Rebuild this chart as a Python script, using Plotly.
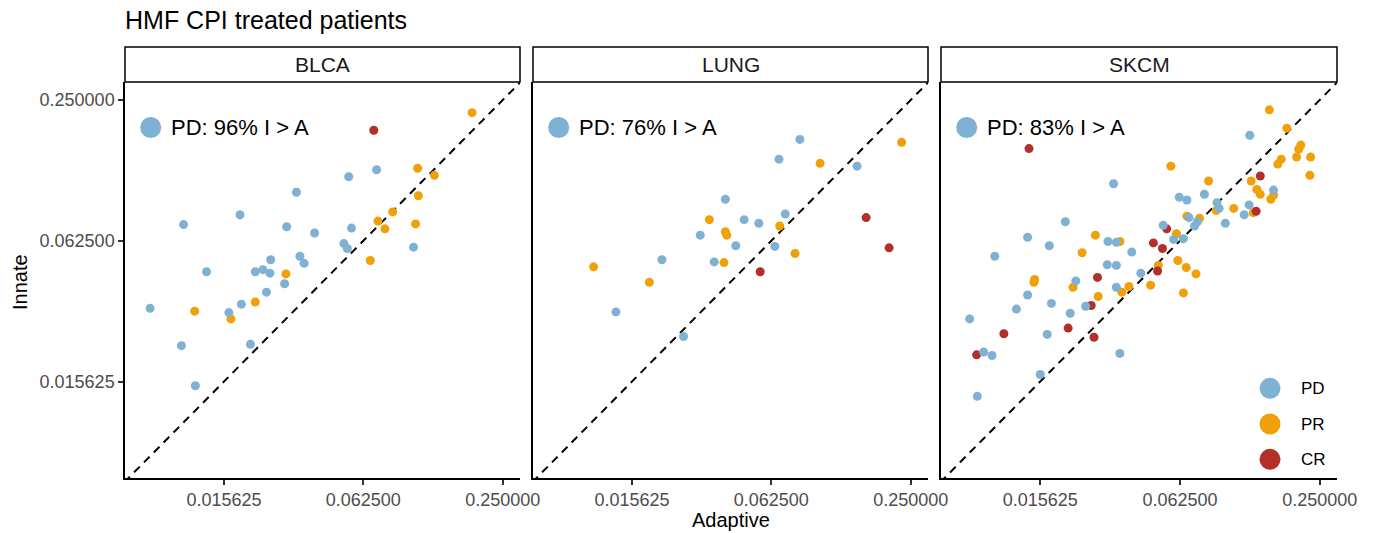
import numpy as np
import plotly.graph_objects as go

# ---------------- data (log2 of Adaptive / Innate) -------------
panels = ["BLCA", "LUNG", "SKCM"]
panel_labels = ["PD: 96% I > A", "PD: 76% I > A", "PD: 83% I > A"]
responses = ["PD", "PR", "CR"]
tick_values = [0.015625, 0.0625, 0.25]
tick_labels = ["0.015625", "0.062500", "0.250000"]

blca_pd_adaptive = [-3.81, -4.21, -4.96, -5.77, -6.58, -5.10, -4.70, -4.17, -4.28, -4.23, -3.28, -4.91, -4.85,
                    -5.33, -6.25, -5.55, -5.44, -5.34, -5.13, -5.39, -5.75, -7.06, -5.93, -6.61, -5.62, -6.41]
blca_pd_innate = [-2.99, -3.09, -3.31, -3.63, -3.77, -3.80, -3.89, -3.82, -4.04, -4.11, -4.09, -4.22, -4.32,
                  -4.27, -4.44, -4.44, -4.41, -4.46, -4.61, -4.73, -4.90, -4.96, -5.02, -5.49, -5.47, -6.06]
blca_pr_adaptive = [-2.44, -3.22, -2.98, -3.21, -3.58, -3.79, -3.69, -3.25, -3.90, -5.11, -5.55, -6.42, -5.90]
blca_pr_innate = [-2.18, -2.97, -3.07, -3.36, -3.59, -3.72, -3.83, -3.76, -4.28, -4.47, -4.87, -5.00, -5.11]
blca_cr_adaptive = [-3.85]
blca_cr_innate = [-2.43]

lung_pd_adaptive = [-3.59, -3.89, -2.77, -4.66, -4.39, -4.18, -3.80, -5.02, -4.51, -3.95, -5.57, -4.82, -6.23, -5.26]
lung_pd_innate = [-2.56, -2.84, -2.94, -3.41, -3.70, -3.75, -3.62, -3.92, -4.07, -4.08, -4.27, -4.30, -5.01, -5.36]
lung_pr_adaptive = [-2.13, -3.30, -4.89, -3.88, -4.66, -4.64, -3.66, -4.68, -6.55, -5.75]
lung_pr_innate = [-2.60, -2.90, -3.70, -3.79, -3.87, -3.92, -4.18, -4.31, -4.37, -4.59]
lung_cr_adaptive = [-2.64, -2.31, -4.16]
lung_cr_innate = [-3.67, -4.10, -4.44]

skcm_pd_adaptive = [-3.00, -4.95, -2.66, -3.65, -4.01, -3.90, -3.47, -3.44, -3.01, -3.08, -5.64, -3.35, -3.87,
                    -3.75, -3.79, -4.24, -4.09, -3.95, -6.18, -5.03, -4.91, -5.87, -4.69, -6.65, -5.04, -4.91,
                    -4.56, -5.49, -4.91, -6.18, -5.84, -6.34, -5.35, -5.57, -7.01, -5.90, -6.81, -6.69, -4.86,
                    -6.00, -6.90]
skcm_pd_innate = [-2.50, -3.19, -3.28, -3.34, -3.38, -3.42, -3.46, -3.54, -3.49, -3.63, -3.73, -3.75, -3.67,
                  -3.73, -3.79, -3.78, -3.98, -3.97, -3.95, -4.01, -4.02, -4.07, -4.16, -4.22, -4.34, -4.35,
                  -4.46, -4.57, -4.66, -4.77, -4.89, -4.97, -4.93, -5.03, -5.11, -5.33, -5.58, -5.63, -5.60,
                  -5.90, -6.21]
skcm_pr_adaptive = [-2.72, -2.47, -2.27, -2.30, -2.33, -2.13, -2.55, -2.60, -4.13, -2.14, -2.98, -3.59, -2.90,
                    -2.85, -2.66, -2.70, -3.48, -3.23, -2.95, -3.90, -3.72, -4.05, -5.21, -4.86, -5.40, -4.03,
                    -4.31, -3.91, -3.77, -6.08, -6.09, -5.53, -4.73, -4.42, -4.83, -3.95, -5.17]
skcm_pr_innate = [-2.14, -2.40, -2.64, -2.70, -2.81, -2.81, -2.84, -2.91, -2.94, -3.07, -3.15, -3.15, -3.27,
                  -3.34, -3.35, -3.41, -3.57, -3.54, -3.60, -3.65, -3.68, -3.90, -3.92, -4.01, -4.17, -4.28,
                  -4.35, -4.38, -4.47, -4.55, -4.59, -4.66, -4.65, -4.63, -4.73, -4.74, -4.79]
skcm_cr_adaptive = [-6.16, -2.85, -2.91, -4.19, -4.38, -4.25, -4.32, -5.18, -5.27, -5.60, -6.52, -5.23, -6.91]
skcm_cr_innate = [-2.69, -3.08, -3.58, -3.83, -4.03, -4.11, -4.43, -4.52, -4.92, -5.24, -5.32, -5.37, -5.62]

data = {
    "BLCA": {"PD": (blca_pd_adaptive, blca_pd_innate), "PR": (blca_pr_adaptive, blca_pr_innate),
             "CR": (blca_cr_adaptive, blca_cr_innate)},
    "LUNG": {"PD": (lung_pd_adaptive, lung_pd_innate), "PR": (lung_pr_adaptive, lung_pr_innate),
             "CR": (lung_cr_adaptive, lung_cr_innate)},
    "SKCM": {"PD": (skcm_pd_adaptive, skcm_pd_innate), "PR": (skcm_pr_adaptive, skcm_pr_innate),
             "CR": (skcm_cr_adaptive, skcm_cr_innate)},
}

# ---------------- styling / layout ----------------
W, H = 1374, 533
FONT = "Liberation Sans, Arial, Helvetica, sans-serif"
colors = {"PD": "#7FB1D3", "PR": "#F0A10A", "CR": "#B1302A"}
draw_order = ["PR", "CR", "PD"]

def px(x):
    return x / W

def py(y):
    return 1 - y / H

x_px = [(125, 520), (533, 928), (941, 1337)]
y_px = (82, 478)
strip_top = 47
LOG2_10 = np.log10(2)
x_range_log2 = (-7.42, -1.752)
y_range_log2 = (-7.37, -1.744)

fig = go.Figure()

for i, panel in enumerate(panels):
    sfx = "" if i == 0 else str(i + 1)
    xa, ya = "x" + sfx, "y" + sfx
    # y = x reference line spanning the axis range (clipped by the plot area)
    ref = [2.0 ** (x_range_log2[0] - 1), 2.0 ** (x_range_log2[1] + 1)]
    fig.add_trace(go.Scatter(x=ref, y=ref, mode="lines", xaxis=xa, yaxis=ya, showlegend=False,
                             line=dict(color="black", width=2, dash="8px,6px"), hoverinfo="skip"))
    for resp in draw_order:
        ax_vals, in_vals = data[panel][resp]
        fig.add_trace(go.Scatter(
            x=2.0 ** np.array(ax_vals), y=2.0 ** np.array(in_vals), mode="markers",
            xaxis=xa, yaxis=ya, name=resp, showlegend=False,
            marker=dict(color=colors[resp], size=9, line=dict(width=0)),
        ))

    x0, x1 = x_px[i]
    fig.update_layout(**{
        "xaxis" + sfx: dict(
            type="log", domain=[px(x0), px(x1)], anchor=ya,
            range=[x_range_log2[0] * LOG2_10, x_range_log2[1] * LOG2_10],
            tickvals=tick_values, ticktext=tick_labels, ticks="outside", ticklen=5,
            tickwidth=1.5, tickcolor="#333333", showline=True, linecolor="black", linewidth=1.5,
            showgrid=False, zeroline=False, automargin=False,
            tickfont=dict(family=FONT, size=18, color="#4D4D4D"),
        ),
        "yaxis" + sfx: dict(
            type="log", domain=[py(y_px[1]), py(y_px[0])], anchor=xa,
            range=[y_range_log2[0] * LOG2_10, y_range_log2[1] * LOG2_10],
            tickvals=tick_values, ticktext=tick_labels,
            ticks="outside" if i == 0 else "", ticklen=5, tickwidth=1.5, tickcolor="#333333",
            showticklabels=(i == 0), showline=True, linecolor="black", linewidth=1.5,
            showgrid=False, zeroline=False, automargin=False,
            tickfont=dict(family=FONT, size=18, color="#4D4D4D"),
        ),
    })

    # facet strip
    fig.add_shape(type="rect", xref="paper", yref="paper", x0=px(x0), x1=px(x1),
                  y0=py(y_px[0]), y1=py(strip_top), line=dict(color="black", width=1.5),
                  fillcolor="white", layer="above")
    fig.add_annotation(text=panel, xref="paper", yref="paper", x=px((x0 + x1) / 2),
                       y=py((y_px[0] + strip_top) / 2), showarrow=False, xanchor="center",
                       yanchor="middle", font=dict(family=FONT, size=21, color="#1A1A1A"))

    # in-panel label with a PD dot (offsets relative to the panel's left/bottom edges)
    label_y = (y_px[1] - 127.5) / (y_px[1] - y_px[0])
    fig.add_shape(type="circle", xref=xa + " domain", yref=ya + " domain",
                  xsizemode="pixel", ysizemode="pixel",
                  xanchor=25.7 / (x1 - x0), yanchor=label_y,
                  x0=-10.5, x1=10.5, y0=-10.5, y1=10.5,
                  fillcolor=colors["PD"], line=dict(width=0))
    fig.add_annotation(text=panel_labels[i], xref=xa + " domain", yref=ya + " domain",
                       x=44.0 / (x1 - x0), y=label_y,
                       xanchor="left", yanchor="middle", showarrow=False,
                       font=dict(family=FONT, size=22, color="black"))

# legend drawn inside the SKCM panel
leg_x0, leg_x1 = x_px[2]
for resp, ypos in zip(responses, [388.3, 424.0, 459.3]):
    fig.add_shape(type="circle", xref="x3 domain", yref="y3 domain", xsizemode="pixel", ysizemode="pixel",
                  xanchor=(1270 - leg_x0) / (leg_x1 - leg_x0), yanchor=(y_px[1] - ypos) / (y_px[1] - y_px[0]),
                  x0=-10.5, x1=10.5, y0=-10.5, y1=10.5, fillcolor=colors[resp], line=dict(width=0))
    fig.add_annotation(text=resp, xref="x3 domain", yref="y3 domain",
                       x=(1299 - leg_x0) / (leg_x1 - leg_x0), y=(y_px[1] - ypos) / (y_px[1] - y_px[0]),
                       xanchor="left", yanchor="middle", showarrow=False,
                       font=dict(family=FONT, size=17, color="black"))

# titles
fig.add_annotation(text="HMF CPI treated patients", xref="paper", yref="paper", x=px(123), y=py(20),
                   xanchor="left", yanchor="middle", showarrow=False,
                   font=dict(family=FONT, size=25, color="black"))
fig.add_annotation(text="Adaptive", xref="paper", yref="paper", x=px(731), y=py(520),
                   xanchor="center", yanchor="middle", showarrow=False,
                   font=dict(family=FONT, size=20, color="black"))
fig.add_annotation(text="Innate", xref="paper", yref="paper", x=px(20), y=py(282),
                   xanchor="center", yanchor="middle", showarrow=False, textangle=-90,
                   font=dict(family=FONT, size=20, color="black"))

fig.update_layout(width=W, height=H, autosize=False, margin=dict(l=0, r=0, t=0, b=0),
                  paper_bgcolor="white", plot_bgcolor="white", showlegend=False,
                  font=dict(family=FONT))

fig.write_html("out.html", config={"displayModeBar": False},
               post_script="document.body.style.margin='0';document.body.style.overflow='hidden';")
